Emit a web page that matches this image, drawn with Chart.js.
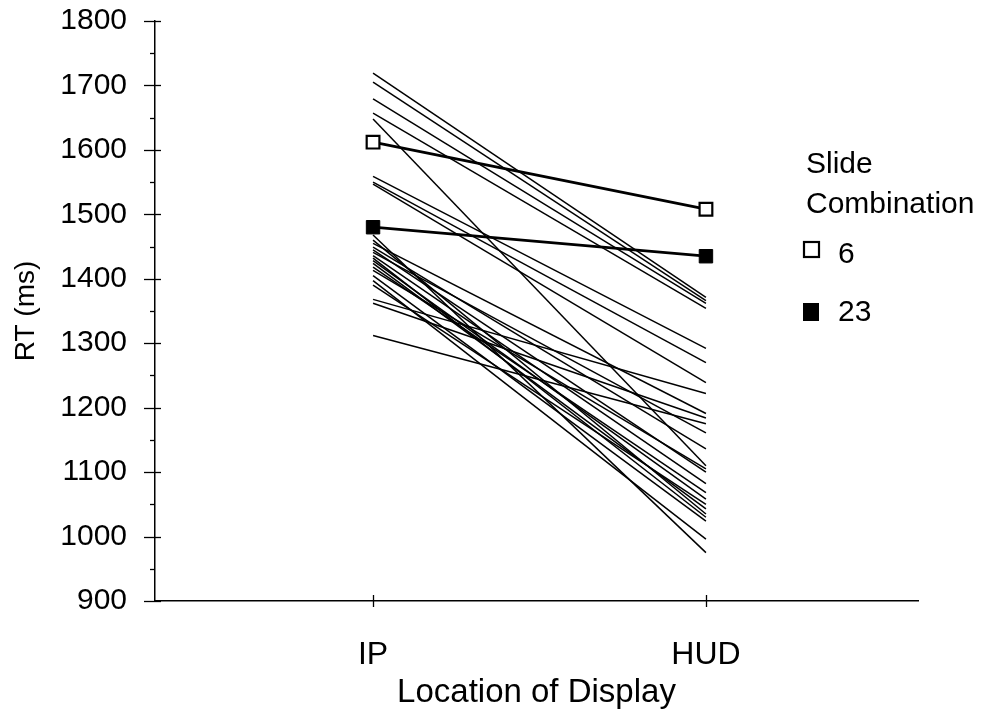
<!DOCTYPE html>
<html><head><meta charset="utf-8">
<script src="https://cdn.jsdelivr.net/npm/chart.js@4/dist/chart.umd.min.js"></script>
<style>html,body{margin:0;padding:0;background:#fff}#wrap{width:981px;height:715px}</style>
</head><body><div id="wrap"><canvas id="c" width="981" height="715"></canvas></div>
<script>
// ---- data ----
const categories = ['IP', 'HUD'];
// individual subject/combination lines (RT in ms)
const ipRT  = [1719,1705,1679,1657,1648,1559,1550,1547,1468,1455,1449,1441,1436,1428,1424,1418,1413,1405,1397,1390,1368,1362,1312,1460,1432,1445];
const hudRT = [1371,1366,1362,1354,1110,1292,1270,1239, 975,1191,1136,1161,1082,1058,1043,1068,1105,1024, 996,1050,1222,1184,1175,1035,1030,1100];
const combo6  = [1612, 1508];
const combo23 = [1480, 1435];
const legendTitle = ['Slide', 'Combination'];
const legendLabels = ['6', '23'];
const yMin = 900, yMax = 1800, yStep = 100;

const FONT = '"Liberation Sans", Arial, Helvetica, sans-serif';

const toPts = arr => arr.map((v, i) => ({x: i, y: v}));

const datasets = [];
datasets.push({label: legendLabels[0], data: toPts(combo6), borderColor: '#000', borderWidth: 2.8,
  pointStyle: 'rect', pointRadius: 9, pointBackgroundColor: '#fff', pointBorderColor: '#000', pointBorderWidth: 2.2, order: 0});
datasets.push({label: legendLabels[1], data: toPts(combo23), borderColor: '#000', borderWidth: 2.8,
  pointStyle: 'rect', pointRadius: 9.5, pointBackgroundColor: '#000', pointBorderColor: '#000', pointBorderWidth: 1, order: 0});
ipRT.forEach((v, i) => {
  datasets.push({label: 'line' + i, data: toPts([v, hudRT[i]]), borderColor: '#000', borderWidth: 1.5,
    pointRadius: 0, order: 1});
});

const tickPlugin = {
  id: 'ticks',
  afterDraw(chart) {
    const ctx = chart.ctx, ys = chart.scales.y, xs = chart.scales.x;
    const ax = chart.chartArea.left, ay = chart.chartArea.bottom;
    ctx.save();
    ctx.strokeStyle = '#000';
    ctx.lineWidth = 1.3;
    for (let v = yMin; v <= yMax; v += yStep / 2) {
      const py = Math.round(ys.getPixelForValue(v)) + 0.5;
      ctx.beginPath();
      if ((v - yMin) % yStep === 0) { ctx.moveTo(ax - 11, py); ctx.lineTo(ax + 6, py); }
      else { ctx.moveTo(ax - 5, py); ctx.lineTo(ax, py); }
      ctx.stroke();
    }
    categories.forEach((c, i) => {
      const px = Math.round(xs.getPixelForValue(i)) + 0.5;
      ctx.beginPath(); ctx.moveTo(px, ay - 6); ctx.lineTo(px, ay + 6); ctx.stroke();
    });
    // legend
    ctx.fillStyle = '#000';
    ctx.font = '30px ' + FONT;
    ctx.textBaseline = 'middle';
    ctx.textAlign = 'left';
    ctx.fillText(legendTitle[0], 806, 165);
    ctx.fillText(legendTitle[1], 806, 205);
    ctx.lineWidth = 2.2;
    ctx.strokeRect(804, 242, 15, 15);
    ctx.fillText(legendLabels[0], 838, 255);
    ctx.fillRect(803, 303, 16, 18);
    ctx.fillText(legendLabels[1], 838, 313);
    ctx.restore();
  }
};

new Chart(document.getElementById('c'), {
  type: 'line',
  data: {datasets},
  options: {
    responsive: false, animation: false, devicePixelRatio: 1,
    layout: {autoPadding: false, padding: {top: 21, right: 63, left: 0, bottom: 0}},
    plugins: {legend: {display: false}, tooltip: {enabled: false}},
    scales: {
      x: {
        type: 'linear', min: -0.655, max: 1.637,
        grid: {display: false},
        border: {color: '#000', width: 1.5},
        afterBuildTicks: s => { s.ticks = categories.map((c, i) => ({value: i})); },
        ticks: {callback: v => categories[v] ?? '', font: {family: FONT, size: 32}, color: '#000', padding: 27},
        title: {display: true, text: 'Location of Display', font: {family: FONT, size: 33}, color: '#000', padding: {top: 2, bottom: 2}},
        afterFit: s => { s.height = 114; s.paddingLeft = 0; s.paddingRight = 0; }
      },
      y: {
        min: yMin, max: yMax,
        grid: {display: false},
        border: {color: '#000', width: 1.5},
        ticks: {stepSize: yStep, font: {family: FONT, size: 30}, color: '#000', padding: 20, callback: v => String(v)},
        title: {display: true, text: 'RT (ms)', font: {family: FONT, size: 28}, color: '#000', padding: {top: 9, bottom: 4}},
        afterFit: s => { s.width = 155; s.paddingTop = 0; s.paddingBottom = 0; }
      }
    }
  },
  plugins: [tickPlugin]
});
</script>
</body></html>
